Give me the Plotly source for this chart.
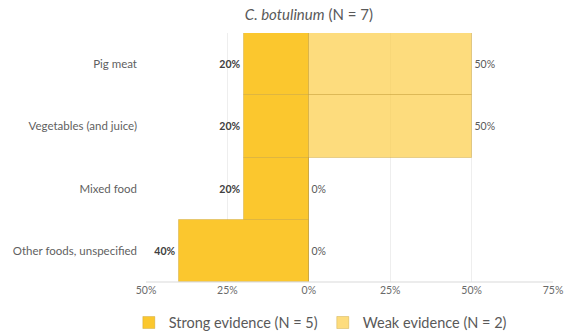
import plotly.graph_objects as go

categories = ["Pig meat", "Vegetables (and juice)", "Mixed food", "Other foods, unspecified"]
strong = [20, 20, 20, 40]
weak = [50, 50, 0, 0]
tick_vals = [-50, -25, 0, 25, 50, 75]
tick_text = ["50%", "25%", "0%", "25%", "50%", "75%"]

fig = go.Figure()
fig.add_trace(go.Bar(
    y=categories, x=[-v for v in strong], orientation="h",
    name="Strong evidence (N = 5)",
    marker=dict(color="#FBC72E", line=dict(color="rgba(190,150,40,0.35)", width=1)),
    text=[f"<b>{v}%</b>" for v in strong], textposition="outside",
    textfont=dict(size=10.5, color="#404040"), cliponaxis=False,
))
fig.add_trace(go.Bar(
    y=categories, x=weak, orientation="h",
    name="Weak evidence (N = 2)",
    marker=dict(color="rgba(252,205,70,0.7)", line=dict(color="rgba(190,150,40,0.35)", width=1)),
    text=[f"{v}%" for v in weak], textposition="outside",
    textfont=dict(size=10.5, color="#595959"), cliponaxis=False,
))

fig.update_layout(
    width=572, height=335,
    margin=dict(l=146, r=19, t=33, b=53, autoexpand=False),
    barmode="relative", bargap=0,
    plot_bgcolor="white", paper_bgcolor="white",
    font=dict(family="Lato, sans-serif", color="#595959"),
    title=dict(text="<i>C. botulinum</i> (N = 7)", x=0.54, xanchor="center",
               yref="container", y=0.955, yanchor="middle",
               font=dict(size=15, color="#595959")),
    xaxis=dict(range=[-50, 75], tickvals=tick_vals, ticktext=tick_text,
               showgrid=True, gridcolor="#EEEEEE", zeroline=False,
               showline=False, tickfont=dict(size=10.5, color="#6a6a6a"), ticks="",
               automargin=False),
    yaxis=dict(autorange="reversed", showgrid=False, ticks="", ticklabelstandoff=8,
               tickfont=dict(size=11.5, color="#5f5f5f"), showline=False, automargin=False),
    legend=dict(orientation="h", xref="container", yref="container", x=0.56, xanchor="center",
                y=0.037, yanchor="middle", font=dict(size=14.5, color="#595959"),
                traceorder="normal", itemwidth=30),
    showlegend=True,
)
fig.add_shape(type="line", xref="paper", yref="paper", x0=0, x1=1, y0=0, y1=0,
              line=dict(color="#D9D9D9", width=1))
fig.write_html("out.html", config={"displayModeBar": False},
               post_script="document.body.style.margin='0px';document.body.style.overflow='hidden';")
